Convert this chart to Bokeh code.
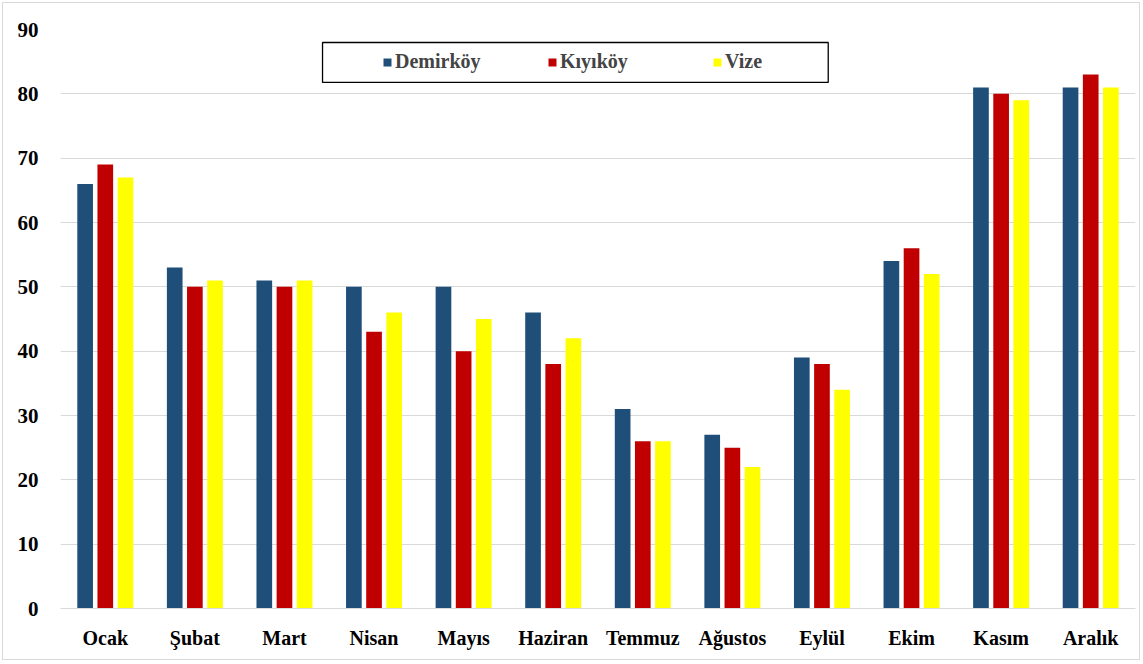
from bokeh.plotting import figure
from bokeh.models import (ColumnDataSource, FactorRange, Range1d, Legend, LegendItem,
                          BoxAnnotation, SingleIntervalTicker)
from bokeh.transform import dodge
from bokeh.embed import file_html
from bokeh.resources import INLINE

months = ["Ocak", "Şubat", "Mart", "Nisan", "Mayıs", "Haziran",
          "Temmuz", "Ağustos", "Eylül", "Ekim", "Kasım", "Aralık"]
demirkoy = [66, 53, 51, 50, 50, 46, 31, 27, 39, 54, 81, 81]
kiyikoy = [69, 50, 50, 43, 40, 38, 26, 25, 38, 56, 80, 83]
vize = [67, 51, 51, 46, 45, 42, 26, 22, 34, 52, 79, 81]

series = [("Demirköy", "demirkoy", "#1F4E79", -0.225),
          ("Kıyıköy", "kiyikoy", "#C00000", 0.0),
          ("Vize", "vize", "#FFFF00", 0.225)]

source = ColumnDataSource(dict(month=months, demirkoy=demirkoy,
                               kiyikoy=kiyikoy, vize=vize))

FONT = "Liberation Serif"

p = figure(width=1138, height=658, output_backend="svg", toolbar_location=None,
           x_range=FactorRange(*months, range_padding=0),
           y_range=Range1d(0, 90),
           min_border_left=57, min_border_right=6,
           min_border_top=26, min_border_bottom=53)
# thin light-grey frame around the whole chart
p.styles = {"border": "1px solid #d9d9d9", "margin": "2px"}
p.outline_line_color = None
p.background_fill_color = "white"
p.border_fill_color = "white"

items = []
for name, col, color, off in series:
    r = p.vbar(x=dodge("month", off, range=p.x_range), top=col, width=0.175,
               source=source, fill_color=color, line_color=None)
    items.append(LegendItem(label=name, renderers=[r]))

# axes
p.yaxis.ticker = SingleIntervalTicker(interval=10)
p.yaxis.axis_line_color = None
p.yaxis.major_tick_line_color = None
p.yaxis.minor_tick_line_color = None
p.yaxis.major_label_text_font = FONT
p.yaxis.major_label_text_font_style = "bold"
p.yaxis.major_label_text_font_size = "21px"
p.yaxis.major_label_text_color = "#000000"
p.yaxis.major_label_standoff = 16

p.xaxis.axis_line_color = "#d9d9d9"
p.xaxis.major_tick_line_color = None
p.xaxis.minor_tick_line_color = None
p.xaxis.major_label_text_font = FONT
p.xaxis.major_label_text_font_style = "bold"
p.xaxis.major_label_text_font_size = "20px"
p.xaxis.major_label_text_color = "#000000"
p.xaxis.major_label_standoff = 12

p.xgrid.grid_line_color = None
p.ygrid.grid_line_color = "#d9d9d9"

# legend frame
p.add_layout(BoxAnnotation(left=2.925, right=8.57, bottom=81.77, top=87.98,
                           fill_color="white", fill_alpha=1.0,
                           line_color="black", line_alpha=1.0, line_width=1.3,
                           level="annotation"))

legend = Legend(items=items, orientation="horizontal", location=(322, 535),
                border_line_color=None, background_fill_alpha=0,
                glyph_width=10, glyph_height=10, label_standoff=3,
                label_width=120, spacing=32, padding=4,
                label_text_font=FONT, label_text_font_style="bold",
                label_text_font_size="20px")
p.add_layout(legend, "center")

open("out.html", "w").write(file_html(p, INLINE))
